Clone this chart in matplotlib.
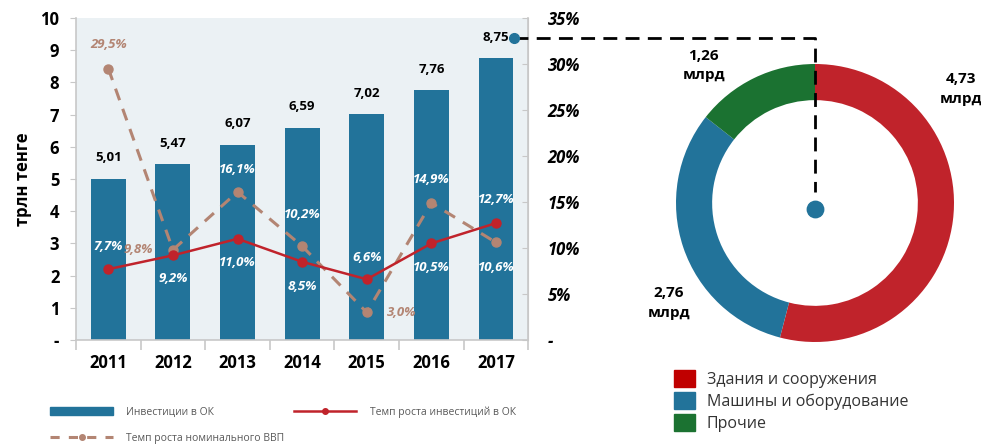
import matplotlib.pyplot as plt
from matplotlib.lines import Line2D
from matplotlib.patches import Patch

plt.rcParams['font.family'] = ['Open Sans', 'DejaVu Sans']

# Data
years = ['2011', '2012', '2013', '2014', '2015', '2016', '2017']
invest = [5.01, 5.47, 6.07, 6.59, 7.02, 7.76, 8.75]
invest_growth = [7.7, 9.2, 11.0, 8.5, 6.6, 10.5, 12.7]
gdp_growth = [29.5, 9.8, 16.1, 10.2, 3.0, 14.9, 10.6]

pie_labels = ['Здания и сооружения', 'Машины и оборудование', 'Прочие']
pie_values = [4.73, 2.76, 1.26]

BLUE = '#22739a'
RED = '#c0232b'
BROWN = '#b38573'
GREEN = '#1b7231'
BG = '#ebf1f4'
GRID = '#c8c8c8'

fig = plt.figure(figsize=(9.81, 4.48), dpi=100)

# ---- bar + line chart ----
ax = fig.add_axes([0.0775, 0.241, 0.461, 0.719])
ax.set_facecolor(BG)
x = list(range(len(years)))
ax.bar(x, invest, width=0.54, color=BLUE, zorder=2)
ax.set_xlim(-0.5, 6.5)
ax.set_ylim(0, 10)
ax.set_yticks(range(0, 11))
ax.set_yticklabels(['-'] + [str(i) for i in range(1, 11)], fontsize=12, fontweight='bold')
ax.set_xticks(x)
ax.set_xticklabels(years, fontsize=12, fontweight='bold')
ax.tick_params(axis='x', length=0, pad=10)
ax.set_xticks([i - 0.5 for i in range(len(years) + 1)], minor=True)
ax.tick_params(axis='x', which='minor', length=7, color=GRID, width=1.2)
ax.tick_params(axis='y', length=4, color=GRID, pad=8)
ax.spines['top'].set_visible(False)
for s in ['left', 'bottom', 'right']:
    ax.spines[s].set_color(GRID)
    ax.spines[s].set_linewidth(1.2)
ax.set_ylabel('трлн тенге', fontsize=12, fontweight='bold', labelpad=6)

for xi, v in zip(x, invest):
    ax.annotate(f'{v:.2f}'.replace('.', ','), (xi, v), xytext=(0, 15),
                textcoords='offset points', ha='center', va='center',
                fontsize=9.5, fontweight='bold', color='black')

ax2 = ax.twinx()
ax2.set_ylim(0, 35)
ax2.set_yticks(range(0, 36, 5))
ax2.set_yticklabels(['-'] + [f'{i}%' for i in range(5, 36, 5)],
                    fontsize=12, fontweight='bold', style='italic')
ax2.tick_params(axis='y', direction='in', length=4, color=GRID, pad=14)
for s in ['top', 'left', 'bottom']:
    ax2.spines[s].set_visible(False)
ax2.spines['right'].set_color(GRID)

ax2.plot(x, gdp_growth, color=BROWN, lw=2.2, dashes=(4, 3), marker='o', ms=6.5, zorder=3)
ax2.plot(x, invest_growth, color=RED, lw=1.8, marker='o', ms=6.5, zorder=4)

# label offsets in points (dx, dy)
inv_off = [(0, 16), (0, -17), (0, -17), (0, -18), (0, 16), (0, -17), (0, 17)]
gdp_off = [(0, 17), (-25, 0), (0, 16), (0, 23), (25, 0), (0, 17), (0, -18)]
gdp_col = [BROWN, BROWN, 'white', 'white', BROWN, 'white', 'white']
for xi, v, off in zip(x, invest_growth, inv_off):
    ax2.annotate(f'{v:.1f}%'.replace('.', ','), (xi, v), xytext=off,
                 textcoords='offset points', ha='center', va='center',
                 fontsize=9.5, fontweight='bold', style='italic', color='white', zorder=6)
for xi, v, off, c in zip(x, gdp_growth, gdp_off, gdp_col):
    ax2.annotate(f'{v:.1f}%'.replace('.', ','), (xi, v), xytext=off,
                 textcoords='offset points', ha='center', va='center',
                 fontsize=9.5, fontweight='bold', style='italic', color=c, zorder=6)

# ---- donut ----
pax = fig.add_axes([676 / 981, (448 - 203 - 139) / 448, 278 / 981, 278 / 448])
pax.pie(pie_values, colors=[RED, BLUE, GREEN], startangle=90, counterclock=False,
        radius=1, wedgeprops=dict(width=0.26, edgecolor='none'))
pax.set_xlim(-1, 1)
pax.set_ylim(-1, 1)
pax.set_aspect('equal', adjustable='box')
pax.axis('off')
pax.scatter([0], [-0.04], s=140, color=BLUE, zorder=5)

pie_pos = [(1.05, 0.82), (-1.05, -0.72), (-0.8, 0.99)]
for v, (px, py) in zip(pie_values, pie_pos):
    pax.text(px, py, f'{v:.2f}'.replace('.', ',') + '\nмлрд', ha='center', va='center',
             fontsize=11, fontweight='bold', linespacing=1.5)

# dashed connector from the 2017 bar to the donut centre
fig.canvas.draw()
to_fig = fig.transFigure.inverted()
p0 = to_fig.transform(ax.transData.transform((6.28, 9.38)))
p2 = to_fig.transform(pax.transData.transform((0, 0.08)))
fig.add_artist(Line2D([p0[0], p2[0], p2[0]], [p0[1], p0[1], p2[1]],
                      transform=fig.transFigure, color='black', lw=2, dashes=(5, 3)))
fig.add_artist(Line2D([p0[0]], [p0[1]], transform=fig.transFigure, marker='o',
                      ms=7, color=BLUE, lw=0))

# donut legend
handles = [Patch(color=c) for c in ['#c00000', BLUE, GREEN]]
fig.legend(handles, pie_labels, loc='upper left', bbox_to_anchor=(0.679, 0.193),
           frameon=False, fontsize=11.5, handlelength=1.3, handleheight=1.3,
           handletextpad=0.75, labelspacing=0.25, labelcolor='#333333', borderpad=0)

# bar chart legend
h1 = Patch(color=BLUE)
h2 = Line2D([], [], color=RED, lw=1.8, marker='o', ms=4)
h3 = Line2D([], [], color=BROWN, lw=2.2, dashes=(3, 3), marker='o', ms=4)
fig.legend([h1, h2], ['Инвестиции в ОК', 'Темп роста инвестиций в ОК'], loc='upper left',
           bbox_to_anchor=(0.046, 0.105), ncol=2, frameon=False, fontsize=7.5,
           handlelength=6, handleheight=0.75, handletextpad=1.3, columnspacing=7.6,
           labelcolor='#595959', borderpad=0)
fig.legend([h3], ['Темп роста номинального ВВП'], loc='upper left',
           bbox_to_anchor=(0.046, 0.045), frameon=False, fontsize=7.5,
           handlelength=6, handletextpad=1.3, labelcolor='#595959', borderpad=0)

plt.savefig('out.png', dpi=100)
